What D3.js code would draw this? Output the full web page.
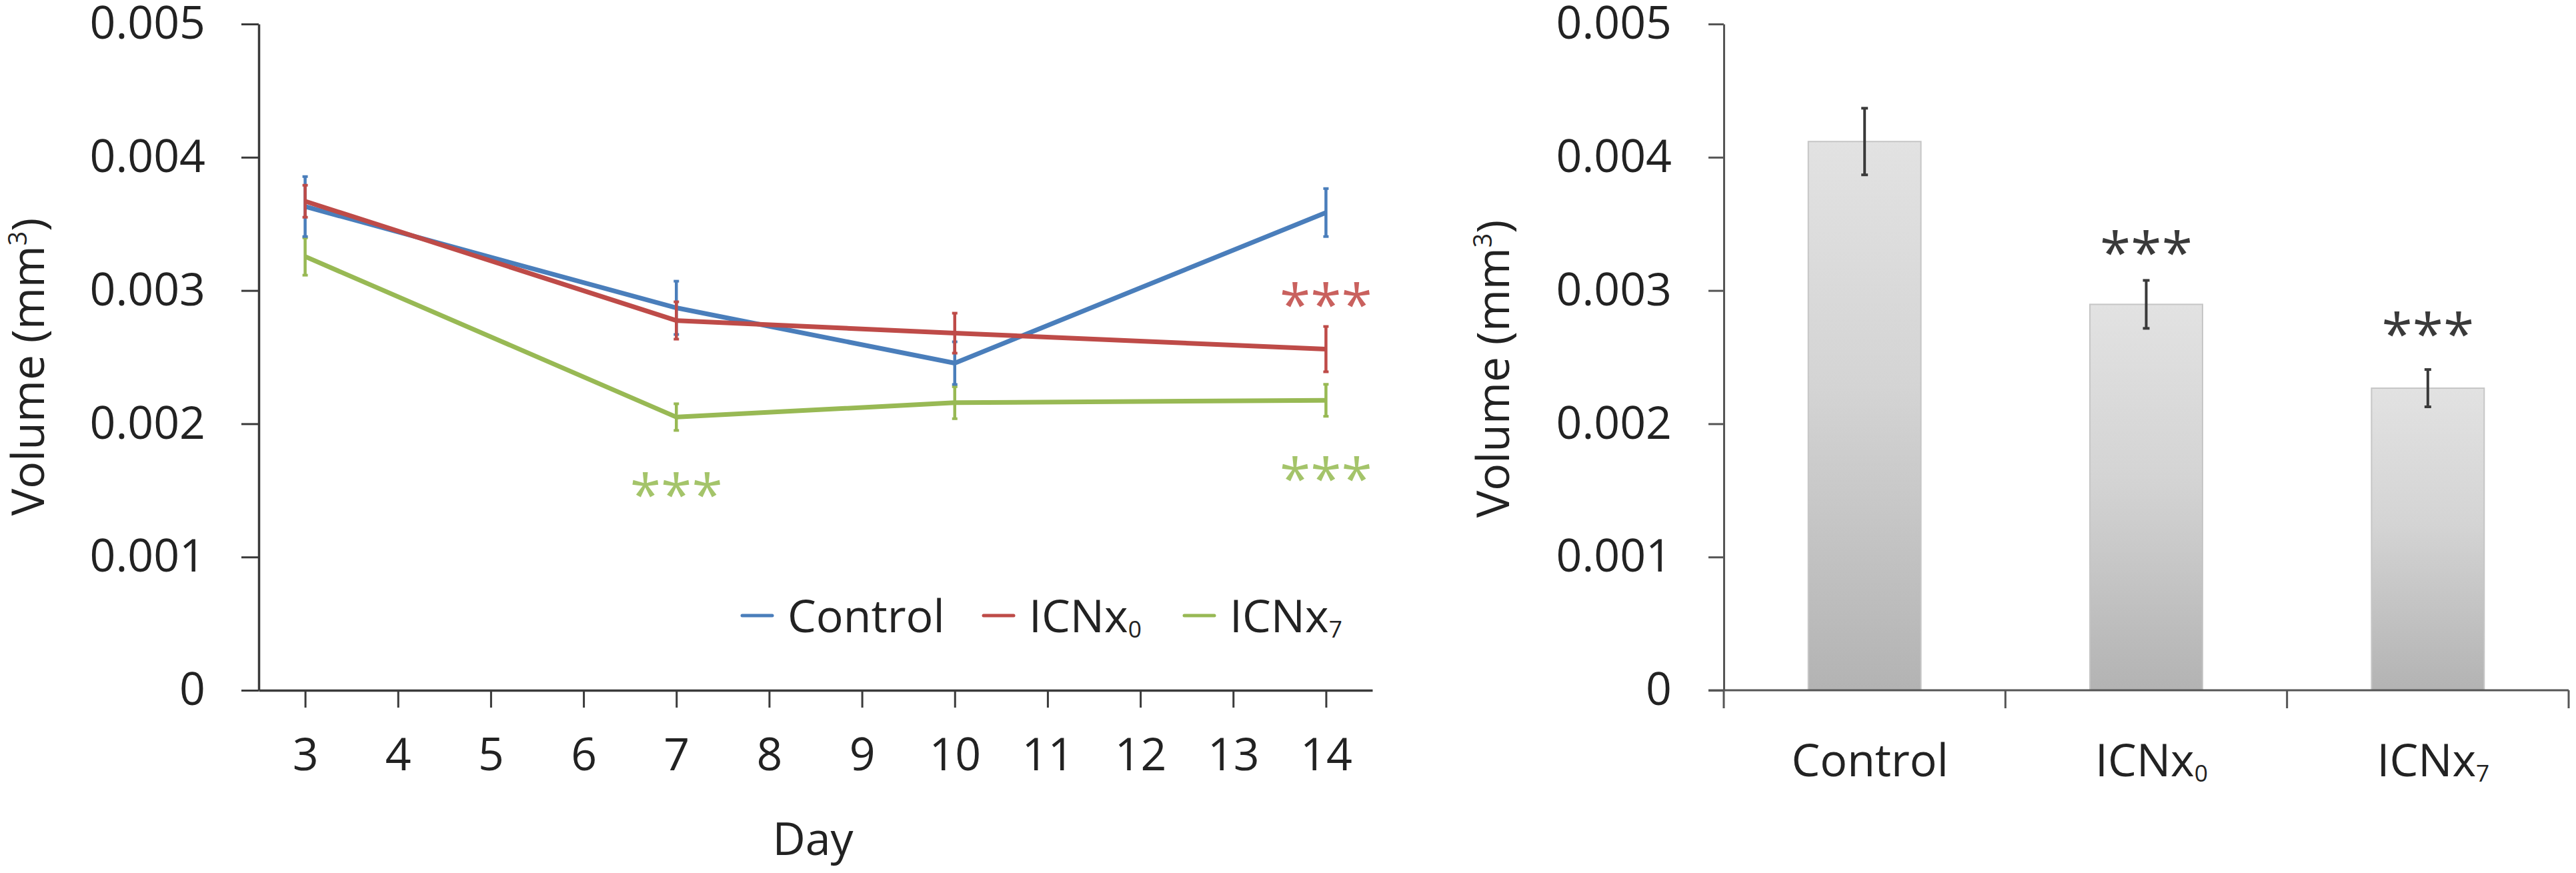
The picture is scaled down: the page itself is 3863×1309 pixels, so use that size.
<!DOCTYPE html>
<html><head><meta charset="utf-8">
<script src="https://cdn.jsdelivr.net/npm/d3@7/dist/d3.min.js"></script>
<style>body{margin:0;background:#fff}svg{display:block}</style>
</head><body>
<svg id="c" width="3863" height="1309"></svg>
<script>
// ---- data ----
const days = [3, 7, 10, 14];
const dayTicks = [3, 4, 5, 6, 7, 8, 9, 10, 11, 12, 13, 14];
const yTicks = [0, 0.001, 0.002, 0.003, 0.004, 0.005];
const seriesNames = ["Control", "ICNx0", "ICNx7"];
const controlMean = [0.00363, 0.00287, 0.002455, 0.003585];
const controlErr  = [0.000225, 0.0002, 0.00016, 0.00018];
const icnx0Mean   = [0.00367, 0.002775, 0.00268, 0.00256];
const icnx0Err    = [0.00012, 0.00014, 0.00015, 0.00017];
const icnx7Mean   = [0.003255, 0.00205, 0.002158, 0.002176];
const icnx7Err    = [0.00014, 0.0001, 0.00012, 0.00012];
const lineSigSeries = ["ICNx7", "ICNx0", "ICNx7"];
const lineSigDay    = [7, 14, 14];
const lineSigValue  = [0.00155, 0.00298, 0.00167];
const barCategories = ["Control", "ICNx0", "ICNx7"];
const barMeans = [0.004118, 0.002896, 0.002267];
const barErr   = [0.00025, 0.00018, 0.00014];
const barSigValue = [null, 0.00337, 0.00276];

// ---- style ----
const FONT = "'Open Sans', 'Noto Sans', sans-serif";
const FS = 68;
const AXIS = "#3a3a3a";
const colors = {"Control": "#4a7ebb", "ICNx0": "#be4b48", "ICNx7": "#98b954"};
const sigColors = {"ICNx0": "#c9615e", "ICNx7": "#a4c46a"};

const svg = d3.select("#c").style("font-family", FONT);
const defs = svg.append("defs");
const grad = defs.append("linearGradient").attr("id", "barGrad")
  .attr("x1", 0).attr("y1", 0).attr("x2", 0).attr("y2", 1);
grad.append("stop").attr("offset", "0%").attr("stop-color", "#e2e2e2");
grad.append("stop").attr("offset", "45%").attr("stop-color", "#d4d4d4");
grad.append("stop").attr("offset", "100%").attr("stop-color", "#b3b3b3");

// label with subscript: "ICNx0" -> ICNx + sub 0
function writeLabel(sel, name) {
  const m = name.match(/^(.*x)(\d)$/);
  if (!m) { sel.text(name); return; }
  sel.text(null);
  sel.append("tspan").text(m[1]);
  sel.append("tspan").attr("font-size", FS * 0.52).attr("dy", 8).text(m[2]);
}
function yTitle(g, x, y) {
  const t = g.append("text").attr("transform", `translate(${x},${y}) rotate(-90)`)
    .attr("text-anchor", "middle").attr("font-size", FS).attr("fill", "#222");
  t.append("tspan").text("Volume (mm");
  t.append("tspan").attr("font-size", FS * 0.55).attr("dy", -26).text("3");
  t.append("tspan").attr("dy", 26).text(")");
}
function styleAxis(g) {
  g.select(".domain").attr("stroke", AXIS).attr("stroke-width", 3.5);
  g.selectAll(".tick line").attr("stroke", AXIS).attr("stroke-width", 3);
  g.selectAll(".tick text").attr("font-size", FS).attr("fill", "#222").attr("font-family", FONT);
}
const yFmt = d => d === 0 ? "0" : d3.format(".3f")(d);

// ================= LEFT: line chart =================
const xL = d3.scaleLinear().domain([2.5, 14.5]).range([388, 2058]);
const yL = d3.scaleLinear().domain([0, 0.005]).range([1035, 36]);
const gL = svg.append("g");

gL.append("g").attr("transform", `translate(${xL.range()[0]},0)`)
  .call(d3.axisLeft(yL).tickValues(yTicks).tickFormat(yFmt).tickSize(26).tickSizeOuter(0).tickPadding(54))
  .call(styleAxis);
gL.append("g").attr("transform", `translate(0,${yL(0)})`)
  .call(d3.axisBottom(xL).tickValues(dayTicks).tickFormat(d3.format("d")).tickSize(26).tickSizeOuter(0).tickPadding(46))
  .call(styleAxis);
yTitle(gL, 66, 550);
gL.append("text").attr("x", (xL.range()[0] + xL.range()[1]) / 2 - 4).attr("y", 1282)
  .attr("text-anchor", "middle").attr("font-size", FS).attr("fill", "#222").text("Day");

const lineSeries = [
  {name: "Control", mean: controlMean, err: controlErr},
  {name: "ICNx0", mean: icnx0Mean, err: icnx0Err},
  {name: "ICNx7", mean: icnx7Mean, err: icnx7Err}
];
const lineGen = d3.line().x(d => xL(d.day)).y(d => yL(d.v));
// draw order: green, blue, red (red on top as in reference)
const order = ["ICNx7", "Control", "ICNx0"];
order.forEach(nm => {
  const s = lineSeries.find(q => q.name === nm);
  const pts = days.map((d, i) => ({day: d, v: s.mean[i], e: s.err[i]}));
  const g = gL.append("g");
  g.append("path").datum(pts).attr("d", lineGen).attr("fill", "none")
    .attr("stroke", colors[nm]).attr("stroke-width", 7).attr("stroke-linejoin", "round");
  g.selectAll("line.eb").data(pts).join("line").attr("class", "eb")
    .attr("x1", d => xL(d.day)).attr("x2", d => xL(d.day))
    .attr("y1", d => yL(d.v + d.e)).attr("y2", d => yL(d.v - d.e))
    .attr("stroke", colors[nm]).attr("stroke-width", 4.5);
  ["+", "-"].forEach(sign => {
    g.selectAll("line.cap" + (sign === "+" ? "t" : "b")).data(pts).join("line")
      .attr("x1", d => xL(d.day) - 4).attr("x2", d => xL(d.day) + 4)
      .attr("y1", d => yL(sign === "+" ? d.v + d.e : d.v - d.e))
      .attr("y2", d => yL(sign === "+" ? d.v + d.e : d.v - d.e))
      .attr("stroke", colors[nm]).attr("stroke-width", 4);
  });
});
// significance stars (left)
const ASTF = 84;
lineSigSeries.forEach((nm, i) => {
  gL.append("text").attr("x", xL(lineSigDay[i])).attr("y", yL(lineSigValue[i]) + ASTF * 0.56)
    .attr("text-anchor", "middle").attr("font-size", ASTF).attr("fill", sigColors[nm]).text("***");
});
// legend
const legX = [1113, 1475, 1776];
seriesNames.forEach((nm, i) => {
  gL.append("line").attr("x1", legX[i]).attr("x2", legX[i] + 45).attr("y1", 923).attr("y2", 923)
    .attr("stroke", colors[nm]).attr("stroke-width", 5).attr("stroke-linecap", "round");
  gL.append("text").attr("x", legX[i] + 68).attr("y", 948).attr("font-size", FS).attr("fill", "#222")
    .call(sel => writeLabel(sel, nm));
});

// ================= RIGHT: bar chart =================
const xR = d3.scaleBand().domain(barCategories).range([2585, 3852]).paddingInner(0.6).paddingOuter(0.3);
const yR = d3.scaleLinear().domain([0, 0.005]).range([1035, 36]);
const gR = svg.append("g");

gR.append("g").attr("transform", `translate(${xR.range()[0]},0)`)
  .call(d3.axisLeft(yR).tickValues(yTicks).tickFormat(yFmt).tickSize(23).tickSizeOuter(0).tickPadding(55))
  .call(styleAxis)
  .call(g => { g.select(".domain").attr("stroke", "#555").attr("stroke-width", 3); g.selectAll(".tick line").attr("stroke", "#555"); });
yTitle(gR, 2263, 553);

const bars = barCategories.map((c, i) => ({c, v: barMeans[i], e: barErr[i], s: barSigValue[i]}));
gR.selectAll("rect.bar").data(bars).join("rect").attr("class", "bar")
  .attr("x", d => xR(d.c)).attr("width", xR.bandwidth())
  .attr("y", d => yR(d.v)).attr("height", d => yR(0) - yR(d.v))
  .attr("fill", "url(#barGrad)").attr("stroke", "#c6c6c6").attr("stroke-width", 2);
// x axis line and boundary ticks
const bounds = [xR.range()[0]].concat(barCategories.map(c => xR(c) + xR.bandwidth() / 2 + xR.step() / 2));
gR.append("line").attr("x1", xR.range()[0] - 23).attr("x2", xR.range()[1]).attr("y1", yR(0)).attr("y2", yR(0))
  .attr("stroke", "#555").attr("stroke-width", 3);
gR.selectAll("line.bt").data(bounds).join("line").attr("class", "bt")
  .attr("x1", d => d).attr("x2", d => d).attr("y1", yR(0)).attr("y2", yR(0) + 27)
  .attr("stroke", "#555").attr("stroke-width", 3);
// category labels
gR.selectAll("text.cat").data(bars).join("text").attr("class", "cat")
  .attr("x", d => xR(d.c) + xR.bandwidth() / 2 + 8).attr("y", 1164)
  .attr("text-anchor", "middle").attr("font-size", FS).attr("fill", "#222")
  .each(function(d) { writeLabel(d3.select(this), d.c); });
// error bars
const cx = d => xR(d.c) + xR.bandwidth() / 2;
gR.selectAll("line.eb").data(bars).join("line").attr("class", "eb")
  .attr("x1", cx).attr("x2", cx).attr("y1", d => yR(d.v + d.e)).attr("y2", d => yR(d.v - d.e))
  .attr("stroke", "#3a3a3a").attr("stroke-width", 4);
[1, -1].forEach(sg => {
  gR.selectAll(null).data(bars).join("line")
    .attr("x1", d => cx(d) - 5).attr("x2", d => cx(d) + 5)
    .attr("y1", d => yR(d.v + sg * d.e)).attr("y2", d => yR(d.v + sg * d.e))
    .attr("stroke", "#3a3a3a").attr("stroke-width", 4);
});
gR.selectAll("text.sig").data(bars.filter(d => d.s !== null)).join("text").attr("class", "sig")
  .attr("x", cx).attr("y", d => yR(d.s) + ASTF * 0.56)
  .attr("text-anchor", "middle").attr("font-size", ASTF).attr("fill", "#3a3a3a").text("***");
</script>
</body></html>
